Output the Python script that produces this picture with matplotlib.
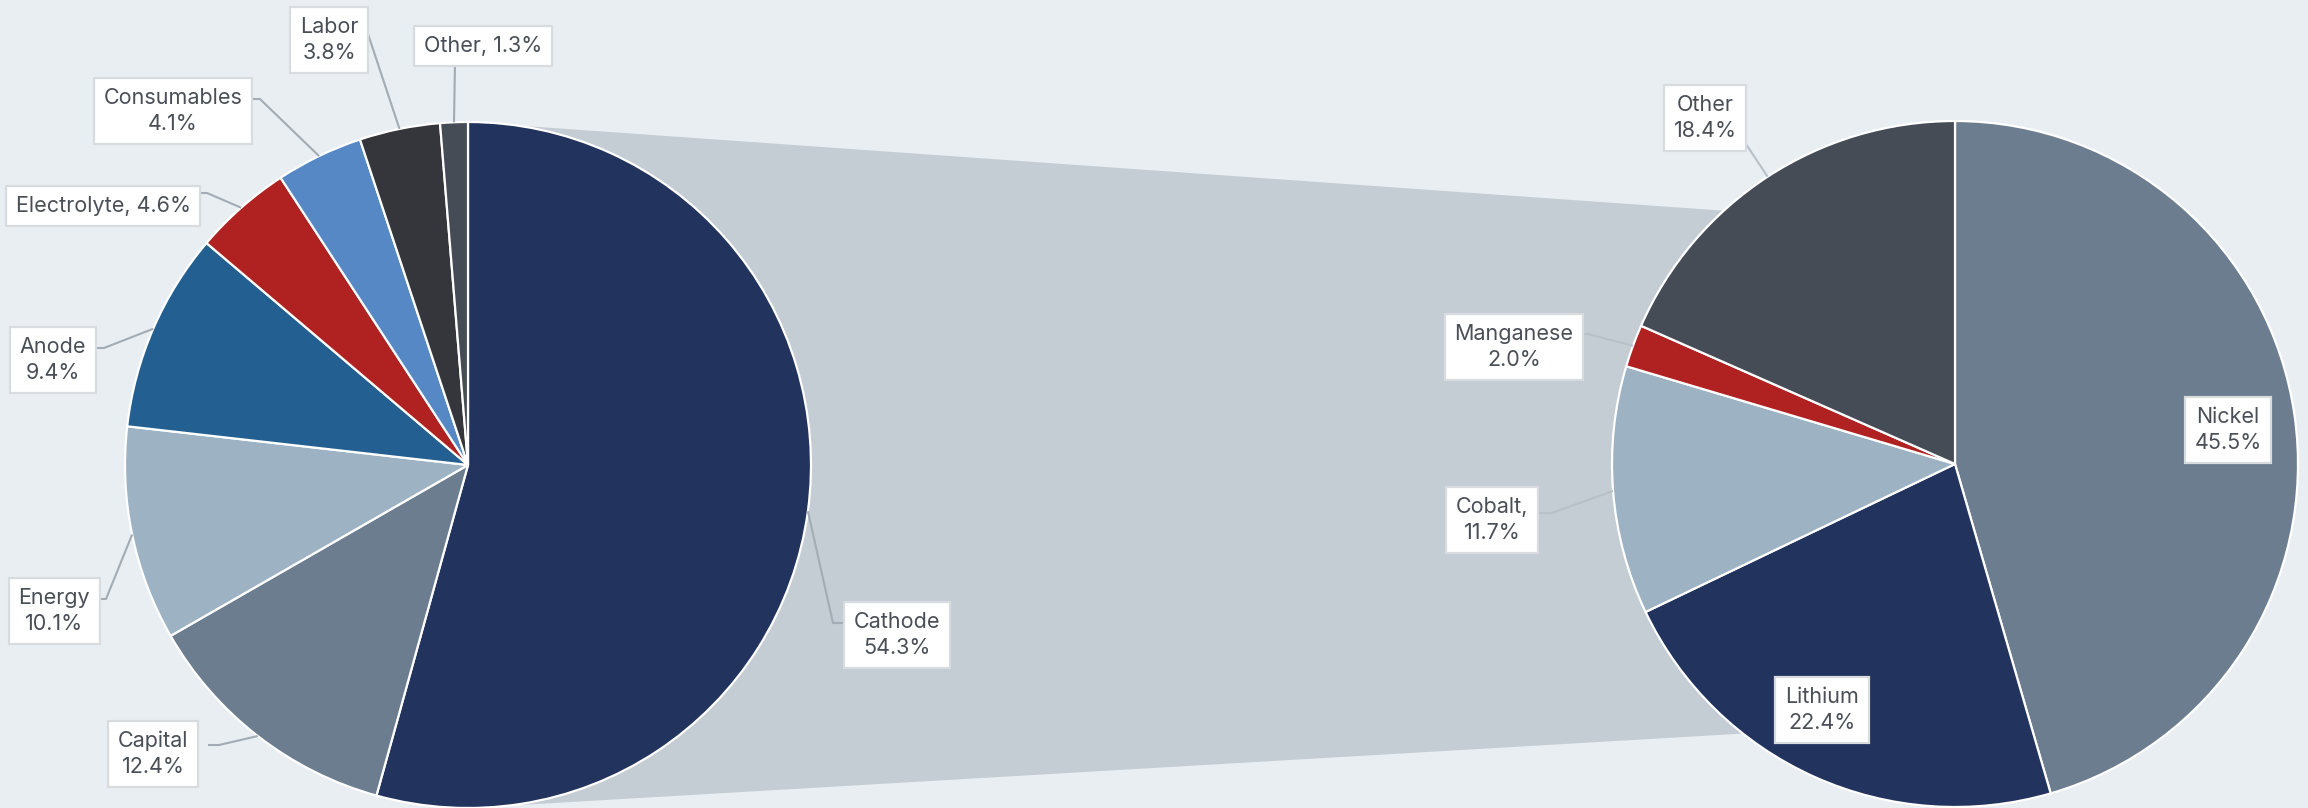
import numpy as np
import matplotlib as mpl
import matplotlib.pyplot as plt
from matplotlib.patches import Polygon

mpl.rcParams['font.family'] = ['Inter', 'DejaVu Sans']

# battery cell cost breakdown (left pie)
cost_items = ['Cathode', 'Capital', 'Energy', 'Anode', 'Electrolyte',
              'Consumables', 'Labor', 'Other']
cost_share = [54.3, 12.4, 10.1, 9.4, 4.6, 4.1, 3.8, 1.3]
cost_labels = ['Cathode\n54.3%', 'Capital\n12.4%', 'Energy\n10.1%', 'Anode\n9.4%',
               'Electrolyte, 4.6%', 'Consumables\n4.1%', 'Labor\n3.8%', 'Other, 1.3%']
cost_colors = ['#22345e', '#6c7d8f', '#9db3c3', '#235f91', '#b02222',
               '#5588c5', '#35363b', '#464c55']

# cathode material breakdown (right pie)
cathode_items = ['Nickel', 'Lithium', 'Cobalt', 'Manganese', 'Other']
cathode_share = [45.5, 22.4, 11.7, 2.0, 18.4]
cathode_labels = ['Nickel\n45.5%', 'Lithium\n22.4%', 'Cobalt,\n11.7%',
                  'Manganese\n2.0%', 'Other\n18.4%']
cathode_colors = ['#6c7d8f', '#22345e', '#9db3c3', '#b02222', '#464c55']

W, H = 2308, 808
bg = '#e8eef1'
text_col = '#4a4f57'

fig = plt.figure(figsize=(W / 100, H / 100), dpi=100, facecolor=bg)
ax = fig.add_axes([0, 0, 1, 1])
ax.set_facecolor(bg)

left_c, right_c, rad = (468, 465), (1955, 464), 343

# y axis is flipped below, so counterclock in data = clockwise on screen
wl, _ = ax.pie(cost_share, colors=cost_colors, center=left_c, radius=rad,
               startangle=-90, counterclock=True, frame=True,
               wedgeprops=dict(edgecolor='white', linewidth=1.6))
wr, _ = ax.pie(cathode_share, colors=cathode_colors, center=right_c, radius=rad,
               startangle=-90, counterclock=True, frame=True,
               wedgeprops=dict(edgecolor='white', linewidth=1.6))

# grey "zoom" band joining the two pies
def on_circle(c, ang):
    return (c[0] + rad * np.cos(np.radians(ang)), c[1] + rad * np.sin(np.radians(ang)))

band = Polygon([(left_c[0], left_c[1] - rad), on_circle(right_c, -132.4),
                on_circle(right_c, 128.2), (left_c[0], left_c[1] + rad)],
               closed=True, facecolor='#c4ccd4', edgecolor='none', zorder=0)
ax.add_patch(band)


def mid_point(w):
    a = np.radians((w.theta1 + w.theta2) / 2)
    return w.center[0] + w.r * np.cos(a), w.center[1] + w.r * np.sin(a)


def label(w, txt, pos, start=None, stub=0, lc='#a3acb4'):
    if start is not None:
        ex, ey = mid_point(w)
        knee = (start[0] + stub, start[1])
        ax.plot([start[0], knee[0], ex], [start[1], knee[1], ey],
                color=lc, lw=1.5, zorder=3, solid_capstyle='butt')
    ax.text(pos[0], pos[1], txt, ha='center', va='center', ma='center',
            fontsize=15.5, color=text_col, linespacing=1.4, zorder=5,
            bbox=dict(boxstyle='square,pad=0.45', facecolor='white',
                      edgecolor='#d8dcdf', linewidth=1.6))


# left pie labels
label(wl[0], cost_labels[0], (897, 635), start=(846, 623), stub=-13)
label(wl[1], cost_labels[1], (153, 754), start=(208, 745), stub=11)
label(wl[2], cost_labels[2], (54, 611), start=(96, 599), stub=10)
label(wl[3], cost_labels[3], (53, 360), start=(94, 348), stub=10)
label(wl[4], cost_labels[4], (103, 206), start=(194, 193), stub=13)
label(wl[5], cost_labels[5], (173, 111), start=(249, 99), stub=11)
label(wl[6], cost_labels[6], (329, 40), start=(366, 28))
label(wl[7], cost_labels[7], (483, 46), start=(455, 63))

# right pie labels
label(wr[0], cathode_labels[0], (2228, 430))
label(wr[1], cathode_labels[1], (1822, 710))
label(wr[2], cathode_labels[2], (1492, 520), start=(1539, 513), stub=13, lc='#b9c1c8')
label(wr[3], cathode_labels[3], (1514, 347), start=(1579, 334), stub=9, lc='#b9c1c8')
label(wr[4], cathode_labels[4], (1705, 118), start=(1742, 138), lc='#b9c1c8')

ax.set_xlim(0, W)
ax.set_ylim(H, 0)
ax.set_aspect('auto')
ax.axis('off')

fig.savefig('out.png', dpi=100, facecolor=bg)
